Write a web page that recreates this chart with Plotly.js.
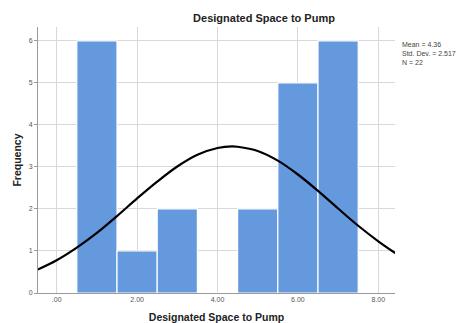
<!DOCTYPE html>
<html><head><meta charset="utf-8">
<script src="https://cdn.plot.ly/plotly-3.0.1.min.js"></script>
<style>html,body{margin:0;padding:0;background:#fff}#c{width:457px;height:323px}</style>
</head><body><div id="c"></div>
<script>
// Histogram bins (centers) and frequencies
const binCenters = [1, 2, 3, 4, 5, 6, 7];
const frequencies = [6, 1, 2, 0, 2, 5, 6];
// Normal curve
const curveX = [-0.47, 0, 0.5, 1, 1.5, 2, 2.5, 3, 3.5, 4, 4.36, 4.5, 5, 5.5, 6, 6.5, 7, 7.5, 8, 8.42];
const curveY = [0.56, 0.78, 1.08, 1.43, 1.83, 2.25, 2.65, 3.01, 3.29, 3.45, 3.49, 3.48, 3.38, 3.15, 2.82, 2.43, 2.01, 1.60, 1.23, 0.95];
const xTickVals = [0, 2, 4, 6, 8];
const xTickText = ['.00', '2.00', '4.00', '6.00', '8.00'];
const yTickVals = [0, 1, 2, 3, 4, 5, 6];
const statsText = ['Mean = 4.36', 'Std. Dev. = 2.517', 'N = 22'];

const font = 'Liberation Sans, Arial, sans-serif';
const data = [
  {type: 'bar', x: binCenters, y: frequencies, width: 1,
   marker: {color: '#6499de', line: {color: '#ffffff', width: 1.2}},
   hoverinfo: 'skip'},
  {type: 'scatter', mode: 'lines', x: curveX, y: curveY,
   line: {color: '#000000', width: 2.2, shape: 'spline'}, hoverinfo: 'skip'}
];
const layout = {
  width: 457, height: 323,
  margin: {l: 38, r: 62, t: 27, b: 30},
  paper_bgcolor: '#ffffff', plot_bgcolor: '#ffffff',
  showlegend: false, bargap: 0,
  title: {text: 'Designated Space to Pump', x: 264/457, xanchor: 'center', y: 1 - 18/323, yanchor: 'middle',
          font: {family: font, size: 11, color: '#222', weight: 'bold'}},
  xaxis: {range: [-0.465, 8.415], tickvals: xTickVals, ticktext: xTickText,
          showgrid: true, gridcolor: '#d9d9d9', gridwidth: 1, zeroline: false,
          showline: true, linecolor: '#9a9a9a', linewidth: 1, ticks: '',
          tickfont: {family: font, size: 7, color: '#555'},
          title: {text: 'Designated Space to Pump', standoff: 14, font: {family: font, size: 10.5, color: '#222', weight: 'bold'}}},
  yaxis: {range: [0, 6.33], tickvals: yTickVals,
          showgrid: true, gridcolor: '#d9d9d9', gridwidth: 1, zeroline: false,
          showline: true, linecolor: '#9a9a9a', linewidth: 1, ticks: 'outside', ticklen: 3, tickcolor: '#9a9a9a',
          tickfont: {family: font, size: 7, color: '#555'},
          title: {text: 'Frequency', standoff: 5, font: {family: font, size: 10.5, color: '#222', weight: 'bold'}}},
  annotations: [{xref: 'paper', yref: 'paper', x: 1.013, y: 1 - 12/266, xanchor: 'left', yanchor: 'top',
                 align: 'left', showarrow: false, text: statsText.join('<br>'),
                 font: {family: font, size: 7, color: '#444'}}]
};
Plotly.newPlot('c', data, layout, {displayModeBar: false, staticPlot: true});
</script></body></html>
